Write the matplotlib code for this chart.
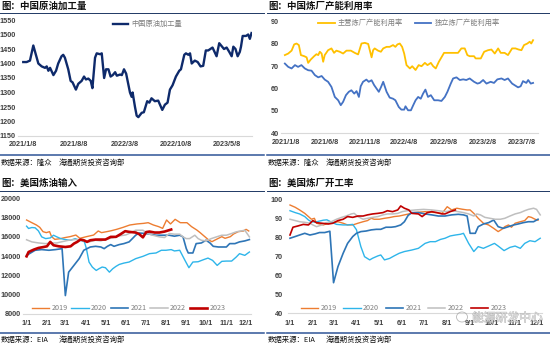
import matplotlib
matplotlib.use("Agg")
import matplotlib.pyplot as plt
import matplotlib.patheffects as pe
from matplotlib.patches import Ellipse
from matplotlib.lines import Line2D
import pandas as pd

plt.rcParams['font.family'] = ['Noto Sans CJK SC', 'DejaVu Sans']

# ---------------- data ----------------
# Panel 1: China crude processing
crude_title = "图：中国原油加工量"
crude_label = "中国原油加工量"
crude_source = "数据来源：隆众"
crude_dates = ["2021-01-08", "2021-01-22", "2021-02-05", "2021-02-19", "2021-03-12", "2021-03-26",
               "2021-04-09", "2021-04-16", "2021-04-23", "2021-04-30", "2021-05-14", "2021-05-25",
               "2021-06-03", "2021-06-17", "2021-06-24", "2021-07-01", "2021-07-15", "2021-07-25",
               "2021-08-02", "2021-08-16", "2021-08-26", "2021-09-09", "2021-09-19", "2021-09-27",
               "2021-10-07", "2021-10-17", "2021-10-24", "2021-11-04", "2021-11-11", "2021-11-25",
               "2021-12-02", "2021-12-12", "2021-12-20", "2021-12-30", "2022-01-08", "2022-01-17",
               "2022-01-27", "2022-02-03", "2022-02-17", "2022-02-24", "2022-03-05", "2022-03-14",
               "2022-03-30", "2022-04-06", "2022-04-10", "2022-04-20", "2022-04-27", "2022-05-04",
               "2022-05-18", "2022-05-27", "2022-06-10", "2022-06-19", "2022-06-28", "2022-07-12",
               "2022-07-26", "2022-08-12", "2022-08-23", "2022-09-03", "2022-09-13", "2022-09-24",
               "2022-10-08", "2022-10-22", "2022-10-29", "2022-11-12", "2022-11-19", "2022-11-29",
               "2022-12-06", "2022-12-13", "2022-12-26", "2023-01-07", "2023-01-19", "2023-01-30",
               "2023-02-10", "2023-02-20", "2023-03-10", "2023-03-27", "2023-04-07", "2023-04-17",
               "2023-04-27", "2023-05-08", "2023-05-19", "2023-05-29", "2023-06-05", "2023-06-14",
               "2023-06-23", "2023-07-02", "2023-07-07", "2023-07-14", "2023-07-28", "2023-08-06",
               "2023-08-13", "2023-08-20"]
crude_values = [1405, 1405, 1410, 1462, 1400, 1390, 1385, 1390, 1375, 1385, 1360, 1375,
                1400, 1425, 1430, 1420, 1380, 1340, 1335, 1310, 1330, 1340, 1355, 1345,
                1348, 1340, 1315, 1420, 1435, 1432, 1435, 1350, 1380, 1380, 1355, 1360,
                1370, 1358, 1362, 1360, 1380, 1365, 1300, 1285, 1300, 1250, 1220, 1215,
                1230, 1232, 1270, 1265, 1280, 1270, 1272, 1240, 1258, 1265, 1310, 1325,
                1355, 1375, 1380, 1430, 1435, 1430, 1435, 1400, 1410, 1405, 1390, 1392,
                1445, 1445, 1455, 1425, 1470, 1460, 1450, 1455, 1440, 1425, 1458, 1450,
                1425, 1440, 1458, 1495, 1495, 1500, 1485, 1505]
crude_ticks = ["2021-01-08", "2021-08-08", "2022-03-08", "2022-10-08", "2023-05-08"]
crude_ticklabels = ["2021/1/8", "2021/8/8", "2022/3/8", "2022/10/8", "2023/5/8"]

# Panel 2: China refinery utilisation
util_title = "图：中国炼厂产能利用率"
util_source = "数据来源：隆众"
util_labels = ["主营炼厂产能利用率", "独立炼厂产能利用率"]
util_start = "2021-01-03"
util_main_days = [0, 13, 26, 36, 45, 54, 62, 75, 84, 90, 100, 113, 122, 129, 135, 142, 148, 154, 167, 180,
                  190, 199, 212, 225, 238, 255, 270, 283, 296, 309, 322, 335, 341, 347, 360, 371, 380, 393, 405, 418,
                  427, 435, 444, 453, 461, 470, 483, 492, 505, 517, 528, 541, 551, 564, 573, 583, 595, 605, 615, 631,
                  650, 669, 682, 695, 705, 714, 731, 737, 757, 770, 785, 798, 811, 824, 834, 849, 862, 878, 891, 903,
                  914, 924, 937, 946, 952, 959]
util_main_values = [75, 75.7, 77, 79.8, 80.2, 79.5, 75, 74.5, 74, 71.5,
                    73, 74.5, 75.4, 75, 76.5, 75.7, 72, 75, 77.2, 78,
                    76, 77, 76.5, 75.7, 77, 77, 76, 75.3, 80.2, 80.5,
                    80, 74, 77.2, 78, 77, 76.5, 78, 78.7, 78.7, 79.5,
                    78.7, 79.8, 80.2, 78.7, 75.7, 70.5, 69, 70, 68.3, 70.5,
                    70, 71.5, 70.5, 71.5, 70, 69, 72, 74, 76, 76,
                    76, 76, 78, 78, 75, 74.5, 74.5, 73.5, 73.5, 76.5,
                    77.2, 77.5, 75.7, 78, 76, 76, 75, 78, 78, 77.5,
                    77.2, 79.5, 80.2, 81, 80.2, 81.7]
util_ind_days = [0, 13, 26, 39, 51, 64, 77, 90, 103, 116, 129, 142, 154, 167, 180, 193, 206, 216, 225, 236,
                 247, 257, 268, 277, 286, 293, 302, 315, 324, 335, 345, 354, 363, 371, 380, 393, 405, 418, 427, 440,
                 450, 461, 466, 476, 487, 496, 505, 515, 525, 534, 543, 553, 564, 577, 592, 605, 618, 628, 641, 650,
                 663, 676, 689, 701, 714, 731, 744, 753, 766, 779, 795, 808, 821, 837, 849, 862, 878, 901, 911, 920,
                 933, 940, 950, 959]
util_ind_values = [71.2, 69.7, 69, 70.5, 69.7, 70.5, 69, 68.2, 68, 66,
                   65, 65.6, 64, 63, 60.7, 56.2, 54.7, 52.5, 54, 57,
                   58.5, 59.2, 57.7, 58.8, 56.2, 61, 63, 64, 63, 63.7,
                   61.5, 60, 58.5, 60.5, 63, 58.5, 55.9, 55.4, 54.7, 51.7,
                   50.5, 50.5, 52, 50.2, 50.2, 52.5, 54.7, 56.2, 55.4, 57.7,
                   59.5, 56.2, 57, 54.7, 54.7, 54.4, 56.2, 58.5, 62.2, 64.5,
                   65, 63.8, 64.1, 63.8, 64.5, 63, 62.2, 62.5, 63.8, 62.2,
                   63, 62.5, 64.1, 64.5, 63.8, 64.5, 62.2, 60.5, 61, 63.3,
                   62.5, 63.8, 62.2, 62.5]
util_ticks = ["2021-01-08", "2021-06-08", "2021-11-08", "2022-04-08", "2022-09-08", "2023-02-08", "2023-07-08"]
util_ticklabels = ["2021/1/8", "2021/6/8", "2021/11/8", "2022/4/8", "2022/9/8", "2023/2/8", "2023/7/8"]

# Panels 3/4: US weekly data, x = day of year
years = ["2019", "2020", "2021", "2022", "2023"]
month_labels = ["1/1", "2/1", "3/1", "4/1", "5/1", "6/1", "7/1", "8/1", "9/1", "10/1", "11/1", "12/1"]

inp_title = "图：美国炼油输入"
inp_source = "数据来源：EIA"
inp_days_2019 = [0, 8, 15, 20, 25, 30, 35, 38, 43, 51, 58, 66, 75, 81, 91, 102, 109, 114, 122, 129,
                 137, 147, 157, 168, 178, 185, 193, 201, 207, 213, 219, 226, 234, 244, 251, 259, 264, 270, 277, 282,
                 287, 292, 297, 302, 310, 315, 322, 330, 334, 338]
inp_2019 = [17750, 17470, 17230, 16990, 16540, 16440, 16540, 16020, 15740, 15810,
            15920, 16020, 16190, 15850, 16020, 16190, 16610, 16440, 16540, 16640,
            16780, 16990, 17230, 17340, 17400, 17470, 17230, 17060, 16880, 17750,
            17340, 17820, 17470, 17470, 17060, 16710, 16440, 16090, 15680, 15500,
            15680, 15850, 16020, 15850, 16020, 16300, 16540, 16610, 16780, 16610]
inp_days_2020 = [0, 3, 8, 13, 18, 23, 29, 36, 41, 46, 52, 59, 67, 74, 80, 85, 88, 91, 95, 100,
                 103, 106, 110, 115, 120, 126, 131, 136, 141, 148, 156, 166, 177, 187, 197, 205, 212, 220, 225, 233,
                 241, 247, 253, 261, 269, 276, 283, 290, 297, 304, 312, 319, 324, 332, 339]
inp_2020 = [17110, 16870, 16970, 16940, 16620, 16000, 15820, 15890, 16170, 16000,
            15820, 15720, 15650, 15820, 15650, 15580, 15480, 14780, 13390, 12870,
            12690, 12520, 12690, 12870, 12800, 12340, 12690, 12940, 13140, 13280,
            13390, 13740, 13980, 14260, 14330, 14610, 14610, 14680, 14540, 14610,
            13560, 12800, 13390, 13420, 13630, 13800, 13560, 13040, 13460, 13490,
            13490, 13910, 14260, 14080, 14430]
inp_days_2021 = [0, 13, 23, 34, 44, 54, 59, 64, 72, 80, 87, 92, 97, 105, 113, 118, 123, 128, 133, 141,
                 148, 156, 161, 166, 171, 181, 197, 207, 217, 225, 233, 238, 243, 246, 253, 258, 266, 273, 279, 284,
                 292, 304, 309, 317, 324, 332, 339]
inp_2021 = [14080, 14610, 14680, 14610, 14680, 14780, 9910, 12340, 13040, 13740,
            14610, 14780, 14950, 15020, 14950, 14780, 15020, 15200, 15020, 15200,
            15300, 15480, 15820, 16170, 16400, 16350, 16170, 16170, 16170, 16070,
            16170, 16000, 14780, 14330, 14330, 15300, 15370, 15650, 15370, 15020,
            14950, 14950, 15300, 15300, 15480, 15580, 15720]
inp_days_2022 = [0, 8, 18, 29, 39, 46, 54, 64, 74, 82, 87, 95, 105, 113, 120, 131, 141, 151, 156, 166,
                 177, 184, 192, 202, 210, 217, 225, 233, 238, 243, 248, 256, 261, 266, 273, 281, 289, 297, 304, 312,
                 319, 327, 332, 339]
inp_2022 = [15700, 15480, 15370, 15300, 15370, 15370, 15500, 15650, 15720, 15720,
            15580, 15480, 15650, 15580, 15750, 15900, 16100, 16200, 16350, 16690,
            16690, 16350, 16170, 16000, 15930, 16350, 16280, 16280, 16000, 15820,
            15820, 16170, 15820, 15650, 15580, 15820, 16000, 16170, 16170, 16350,
            16520, 16620, 16690, 16000]
inp_days_2023 = [0, 3, 11, 18, 26, 31, 36, 41, 49, 59, 67, 72, 77, 82, 87, 92, 97, 105, 120, 128,
                 136, 143, 150, 156, 166, 171, 177, 182, 187, 195, 202, 210, 220]
inp_2023 = [13980, 14430, 14680, 14850, 14950, 15020, 15480, 15130, 15020, 14950,
            15020, 15300, 15480, 15720, 15650, 15480, 15650, 15720, 15720, 16000,
            16000, 16280, 16590, 16520, 16450, 16300, 15950, 16500, 16550, 16450,
            16450, 16550, 16760]

run_title = "图：美国炼厂开工率"
run_source = "数据来源：EIA"
run_days_2019 = [0, 7, 13, 20, 25, 29, 33, 36, 40, 45, 52, 58, 65, 72, 78, 85, 92, 99, 105, 110,
                 114, 121, 128, 135, 141, 148, 155, 161, 168, 183, 197, 206, 213, 219, 226, 233, 240, 244, 249, 255,
                 262, 269, 276, 282, 287, 291, 296, 300, 305, 312, 318, 323, 327, 332, 336]
run_2019 = [97.0, 95.8, 94.4, 92.6, 90.9, 89.5, 90.0, 87.4, 87.0, 86.5,
            87.4, 87.7, 88.2, 87.4, 86.5, 86.5, 87.4, 88.2, 88.8, 90.0,
            89.5, 89.5, 90.0, 90.4, 90.9, 91.2, 91.8, 92.3, 93.0, 93.5,
            93.0, 92.6, 96.1, 94.4, 95.3, 94.8, 94.4, 94.4, 92.6, 90.0,
            87.4, 86.5, 84.7, 83.0, 84.2, 85.6, 86.5, 85.3, 87.4, 88.2,
            88.8, 90.9, 90.5, 89.5, 89.0]
run_days_2020 = [0, 7, 13, 20, 25, 29, 34, 45, 50, 56, 63, 72, 78, 85, 90, 96, 101, 108, 112, 119,
                 123, 128, 135, 141, 148, 155, 165, 174, 183, 190, 197, 204, 210, 217, 224, 231, 235, 242, 249, 255,
                 262, 269, 277, 282, 290, 298, 305, 312, 318, 325, 332, 339]
run_2020 = [94.0, 93.0, 92.3, 90.9, 89.1, 88.2, 88.0, 89.0, 89.2, 88.0,
            86.8, 86.5, 86.5, 86.8, 84.0, 75.1, 69.8, 68.1, 69.0, 70.2,
            70.7, 68.1, 68.9, 70.2, 71.6, 72.5, 73.3, 74.2, 76.8, 77.7,
            77.7, 78.9, 79.5, 80.7, 81.2, 81.6, 82.1, 76.8, 72.5, 75.1,
            74.2, 75.4, 76.8, 75.4, 73.0, 74.7, 75.4, 74.2, 76.8, 78.2,
            77.7, 79.5]
run_days_2021 = [0, 7, 13, 20, 27, 34, 40, 47, 52, 54, 59, 65, 72, 78, 85, 90, 96, 103, 110, 117,
                 123, 130, 137, 143, 150, 155, 160, 165, 174, 183, 192, 201, 210, 219, 228, 235, 240, 244, 251, 255,
                 262, 269, 276, 282, 289, 296, 303, 309, 316, 323, 330, 336]
run_2021 = [79.5, 80.4, 81.2, 82.1, 81.2, 81.8, 82.5, 82.5, 83.0, 83.2,
            56.1, 64.6, 71.6, 76.8, 80.4, 82.1, 83.0, 83.3, 83.9, 84.2,
            84.2, 85.3, 85.3, 85.6, 86.5, 88.2, 91.5, 93.0, 93.0, 92.3,
            91.8, 91.2, 91.2, 91.8, 92.1, 91.8, 91.2, 82.1, 82.1, 85.6,
            87.0, 87.7, 89.1, 85.6, 84.7, 85.6, 86.5, 87.0, 87.7, 88.2,
            88.2, 89.5]
run_days_2022 = [0, 7, 13, 20, 27, 31, 36, 43, 49, 56, 63, 70, 76, 83, 87, 92, 99, 105, 112, 119,
                 126, 132, 139, 146, 152, 159, 170, 181, 192, 201, 210, 219, 228, 235, 242, 249, 253, 258, 264, 271,
                 278, 285, 291, 298, 305, 312, 318, 323, 330, 334, 339]
run_2022 = [89.5, 88.8, 88.2, 87.9, 87.4, 86.5, 85.6, 86.5, 87.7, 88.2,
            89.5, 90.5, 91.2, 92.3, 92.6, 90.9, 89.5, 90.0, 90.5, 90.9,
            91.8, 92.3, 92.3, 92.6, 93.5, 94.0, 94.4, 94.7, 94.4, 94.0,
            93.5, 94.0, 93.5, 93.0, 92.3, 91.2, 92.3, 91.8, 90.5, 90.0,
            89.5, 89.5, 90.0, 91.2, 92.3, 93.0, 94.0, 94.7, 95.3, 94.7,
            91.8]
run_days_2023 = [0, 4, 11, 18, 25, 31, 36, 43, 52, 58, 65, 72, 78, 85, 92, 99, 105, 112, 119, 126,
                 132, 139, 146, 150, 155, 161, 165, 174, 179, 186, 192, 199, 206, 210, 217, 224]
run_2023 = [81.2, 85.3, 86.0, 86.8, 86.5, 88.8, 87.7, 87.4, 87.0, 87.4,
            88.8, 89.5, 90.9, 90.5, 91.2, 91.2, 91.8, 92.3, 92.6, 93.0,
            94.0, 93.5, 94.4, 96.5, 95.3, 94.4, 92.6, 92.3, 90.9, 93.0,
            93.5, 93.0, 92.3, 92.3, 93.5, 94.4]

company = "海通期货投资咨询部"
watermark = "能源研发中心"

# ---------------- styling ----------------
W, H = 550, 345
fig = plt.figure(figsize=(W / 100, H / 100), dpi=100)
fig.patch.set_facecolor("white")

TICK_FONT = dict(family="Liberation Sans", size=5.2, weight="bold")
TICK_COLOR = "#404040"
YEAR_COLORS = ["#ED7D31", "#2EB5EA", "#2E75B6", "#BFBFBF", "#C00000"]


def px_axes(x0, y_top, x1, y_bot):
    return fig.add_axes([x0 / W, 1 - y_bot / H, (x1 - x0) / W, (y_bot - y_top) / H])


def style_axes(ax, xpad, ypad):
    for s in ["top", "right", "left"]:
        ax.spines[s].set_visible(False)
    ax.spines["bottom"].set_color("#D9D9D9")
    ax.spines["bottom"].set_linewidth(0.8)
    ax.tick_params(axis="both", length=0, colors=TICK_COLOR)
    ax.tick_params(axis="x", pad=xpad)
    ax.tick_params(axis="y", pad=ypad)
    for lab in ax.get_xticklabels() + ax.get_yticklabels():
        lab.set_fontfamily(TICK_FONT["family"])
        lab.set_fontsize(TICK_FONT["size"])
        lab.set_fontweight(TICK_FONT["weight"])
    ax.set_facecolor("none")


def fig_text(x, y, s, **kw):
    return fig.text(x / W, 1 - y / H, s, **kw)


def frame(x0, x1, y_title, y_line_top, y_line_bot, y_src, title, source):
    fig_text(x0 + 1, y_title, title, fontsize=6.8, fontweight="bold", color="#111111",
             va="center", ha="left")
    fig.add_artist(Line2D([x0 / W, x1 / W], [1 - y_line_top / H] * 2, color="#1F3864", lw=0.7))
    fig.add_artist(Line2D([x0 / W, x1 / W], [1 - y_line_bot / H] * 2, color="#2F5597", lw=1.1))
    fig_text(x0 + 1, y_src, source, fontsize=5.3, color="#111111", va="center", ha="left")
    fig_text(x0 + 59, y_src, company, fontsize=5.3, color="#111111", va="center", ha="left")


frame(0, 264, 6, 13, 155, 163, crude_title, crude_source)
frame(267, 550, 6, 13, 155, 163, util_title, util_source)
frame(0, 264, 183, 190.5, 333, 340, inp_title, inp_source)
frame(267, 550, 183, 190.5, 333, 340, run_title, run_source)

# ---- panel 1 ----
ax1 = px_axes(18, 20, 252, 136)
cd = pd.to_datetime(crude_dates)
ax1.plot(cd, crude_values, color="#0E2A6B", lw=1.7, label=crude_label, solid_joinstyle="round")
ax1.set_ylim(1150, 1550)
ax1.set_yticks(range(1150, 1551, 50))
ax1.set_xlim(pd.Timestamp("2020-12-17"), pd.Timestamp("2023-08-22"))
ax1.set_xticks(pd.to_datetime(crude_ticks))
ax1.set_xticklabels(crude_ticklabels)
style_axes(ax1, 3.5, 1.8)
ax1.legend(loc="center", bbox_to_anchor=(0.553, 0.965), frameon=False, fontsize=5.2,
           labelcolor="#7F7F7F", handlelength=2.1, handletextpad=0.5, borderpad=0, borderaxespad=0)

# ---- panel 2 ----
ax2 = px_axes(281.5, 21.7, 538, 133)
ud_main = pd.Timestamp(util_start) + pd.to_timedelta(util_main_days, unit="D")
ud_ind = pd.Timestamp(util_start) + pd.to_timedelta(util_ind_days, unit="D")
ax2.plot(ud_main, util_main_values, color="#FFC000", lw=1.3, label=util_labels[0])
ax2.plot(ud_ind, util_ind_values, color="#4472C4", lw=1.3, label=util_labels[1])
ax2.set_ylim(40, 90)
ax2.set_yticks(range(40, 91, 10))
ax2.set_xlim(pd.Timestamp("2020-12-21"), pd.Timestamp("2023-09-08"))
ax2.set_xticks(pd.to_datetime(util_ticks))
ax2.set_xticklabels(util_ticklabels)
style_axes(ax2, 4.5, 2.0)
ax2.legend(loc="center", bbox_to_anchor=(0.497, 0.985), frameon=False, fontsize=5.2, ncol=2,
           labelcolor="#7F7F7F", handlelength=2.3, handletextpad=0.45, columnspacing=1.6,
           borderpad=0, borderaxespad=0)

# ---- month ticks for US panels ----
month_pos = (pd.date_range("2019-01-01", periods=12, freq="MS").dayofyear - 1).tolist()

# ---- panel 3 ----
ax3 = px_axes(23.3, 198.3, 250.7, 314)
inp_days = [inp_days_2019, inp_days_2020, inp_days_2021, inp_days_2022, inp_days_2023]
inp_vals = [inp_2019, inp_2020, inp_2021, inp_2022, inp_2023]
inp_lw = [1.0, 1.0, 1.2, 1.1, 1.9]
for y, d, v, c, lw in zip(years, inp_days, inp_vals, YEAR_COLORS, inp_lw):
    ax3.plot(d, v, color=c, lw=lw, label=y)
ax3.set_ylim(8000, 20000)
ax3.set_yticks(range(8000, 20001, 2000))
ax3.set_xlim(-5, 341)
ax3.set_xticks(month_pos)
ax3.set_xticklabels(month_labels)
style_axes(ax3, 4.5, 1.8)
ax3.legend(loc="center", bbox_to_anchor=(0.463, 0.049), frameon=False, fontsize=5.2, ncol=5,
           labelcolor="#7F7F7F", handlelength=2.4, handletextpad=0.35, columnspacing=0.5,
           borderpad=0, borderaxespad=0)

# ---- panel 4 ----
ax4 = px_axes(288.3, 199.3, 541.7, 313.3)
run_days = [run_days_2019, run_days_2020, run_days_2021, run_days_2022, run_days_2023]
run_vals = [run_2019, run_2020, run_2021, run_2022, run_2023]
run_lw = [1.0, 1.0, 1.2, 1.1, 1.2]
for y, d, v, c, lw in zip(years, run_days, run_vals, YEAR_COLORS, run_lw):
    ax4.plot(d, v, color=c, lw=lw, label=y)
ax4.set_ylim(40, 100)
ax4.set_yticks(range(40, 101, 10))
ax4.set_xlim(-2.3, 341)
ax4.set_xticks(month_pos)
ax4.set_xticklabels(month_labels)
style_axes(ax4, 4.5, 4.0)
ax4.legend(loc="center", bbox_to_anchor=(0.455, 0.044), frameon=False, fontsize=5.2, ncol=5,
           labelcolor="#7F7F7F", handlelength=2.4, handletextpad=0.35, columnspacing=0.9,
           borderpad=0, borderaxespad=0)

# ---- watermark (semi-transparent, hollow-looking) ----
wm = fig_text(472, 318, watermark, fontsize=8.5, color=(1, 1, 1, 0.55), va="center", ha="left",
              zorder=10)
wm.set_path_effects([pe.Stroke(linewidth=0.6, foreground=(0.6, 0.6, 0.6, 0.7)), pe.Normal()])
fig.add_artist(Ellipse((462 / W, 1 - 317 / H), 11 / W, 10 / H, fill=False,
                       edgecolor=(0.6, 0.6, 0.6, 0.7), lw=0.6))

fig.savefig("out.png", dpi=100)
